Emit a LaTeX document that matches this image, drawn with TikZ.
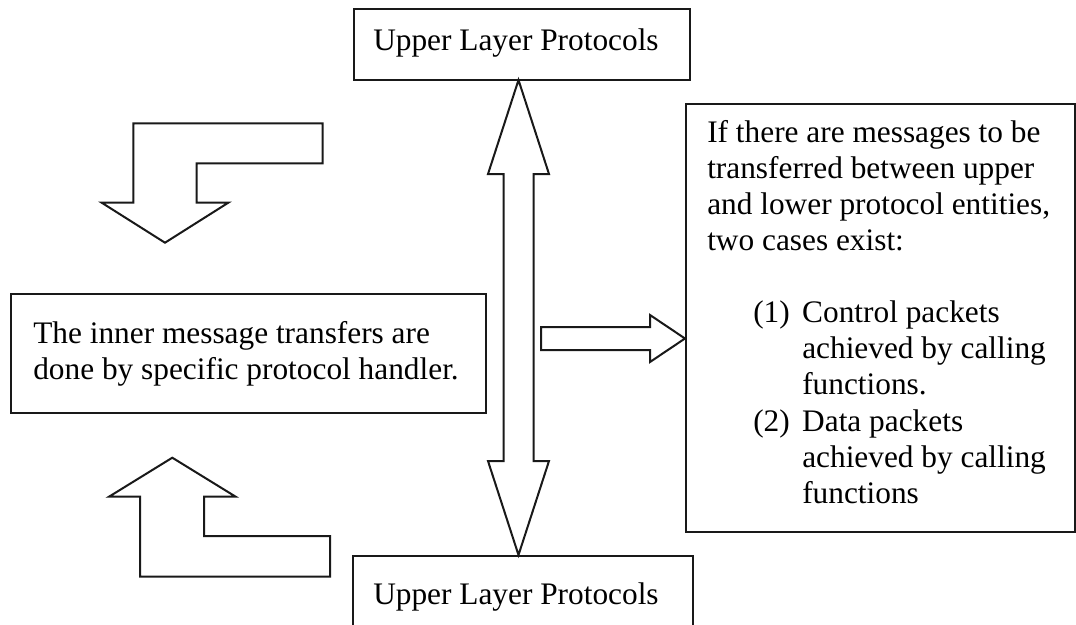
\documentclass[tikz,border=0pt]{standalone}
\usepackage{fontspec}
\setmainfont{Liberation Serif}
\begin{document}
\begin{tikzpicture}[x=0.75pt,y=-0.75pt,
  box/.style={draw=black!90, line width=1.5pt, inner sep=0pt, anchor=north west},
  blockarrow/.style={draw=black!90, line width=1.5pt, line join=miter},
  txt/.style={inner sep=0pt, anchor=base west, font=\fontsize{23.5pt}{27.1pt}\selectfont}]
\clip (0,0) rectangle (1076,625);

% boxes
\node[box, minimum width=252pt, minimum height=53.25pt] (upper) at (353,8) {};
\node[box, minimum width=356.25pt, minimum height=89.25pt] (inner) at (10,293) {};
\node[box, minimum width=291.75pt, minimum height=321pt] (cases) at (685,103) {};
\node[box, minimum width=255pt, minimum height=71.25pt] (lower) at (352,555) {};

% labels
\node[txt] (upperT) at (373,50) {Upper Layer Protocols};
\node[txt] (lowerT) at (373,604) {Upper Layer Protocols};
\node[txt] (innerT) at (33,343) {\parbox[t]{350pt}{\baselineskip=27.6pt
The inner message transfers are\\
done by specific protocol handler.}};
\node[txt] (casesT) at (707,142) {\parbox[t]{285pt}{\baselineskip=27.1pt
If there are messages to be\\
transferred between upper\\
and lower protocol entities,\\
two cases exist:\\[27.1pt]
\hspace*{34.5pt}\makebox[36.75pt][l]{(1)}Control packets\\
\hspace*{71.25pt}achieved by calling\\
\hspace*{71.25pt}functions.\\
\hspace*{34.5pt}\makebox[36.75pt][l]{(2)}Data packets\\
\hspace*{71.25pt}achieved by calling\\
\hspace*{71.25pt}functions}};

% vertical double arrow between the two protocol layers
\draw[blockarrow] (518.5,80) -- (549,174) -- (533.5,174) -- (533.5,461)
  -- (549,461) -- (518.5,555) -- (488,461) -- (503.5,461) -- (503.5,174)
  -- (488,174) -- cycle;

% arrow into the explanation box
\draw[blockarrow] (541,327) -- (650,327) -- (650,315) -- (685,338.5)
  -- (650,362) -- (650,350) -- (541,350) -- cycle;

% bent arrow pointing down
\draw[blockarrow] (133.3,123.3) -- (322.7,123.3) -- (322.7,163.3) -- (196.7,163.3)
  -- (196.7,202.7) -- (228.3,202.7) -- (165,242.7) -- (101.7,202.7)
  -- (133.3,202.7) -- cycle;

% bent arrow pointing up
\draw[blockarrow] (172.3,457.7) -- (235.7,496.7) -- (204,496.7) -- (204,536)
  -- (330,536) -- (330,576.7) -- (140,576.7) -- (140,496.7) -- (109,496.7) -- cycle;
\end{tikzpicture}
\end{document}
